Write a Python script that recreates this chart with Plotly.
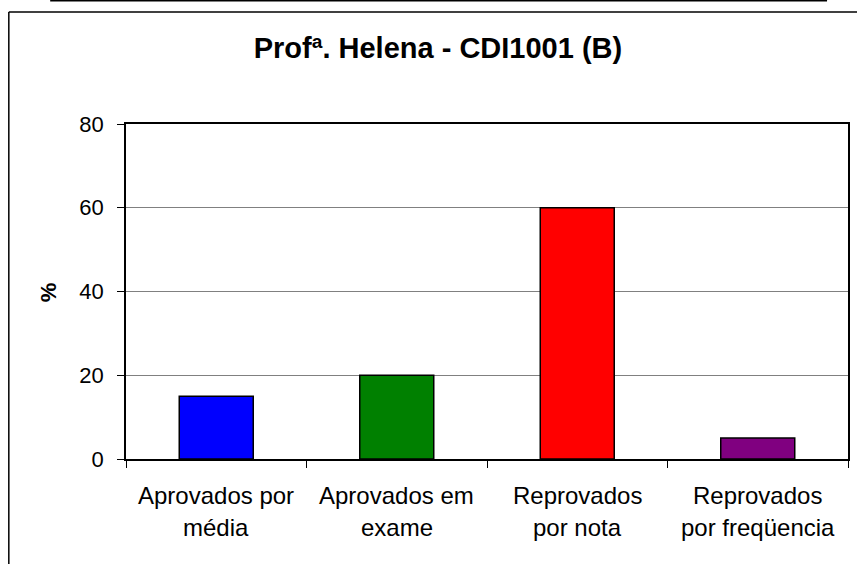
import plotly.graph_objects as go

categorias = ["Aprovados por média", "Aprovados em exame", "Reprovados por nota", "Reprovados por freqüencia"]
linha1 = ["Aprovados por", "Aprovados em", "Reprovados", "Reprovados"]
linha2 = ["média", "exame", "por nota", "por freqüencia"]
percentuais = [15, 20, 60, 5]
cores = ["#0000FF", "#008000", "#FF0000", "#800080"]
y_ticks = [0, 20, 40, 60, 80]

fig = go.Figure(go.Bar(
    x=categorias, y=percentuais,
    marker=dict(color=cores, line=dict(color="black", width=1.5)),
))

fnt = dict(family="Liberation Sans, Arial, sans-serif", color="black")

# two-line category labels (wider line spacing than plotly tick labels)
for c, a, b in zip(categorias, linha1, linha2):
    fig.add_annotation(x=c, y=-0.1075, xref="x", yref="paper", text=a, showarrow=False,
                       font=dict(size=24, **fnt), yanchor="middle")
    fig.add_annotation(x=c, y=-0.203, xref="x", yref="paper", text=b, showarrow=False,
                       font=dict(size=24, **fnt), yanchor="middle")

fig.add_annotation(x=-0.1077, y=0.4985, xref="paper", yref="paper", text="<b>%</b>", textangle=-90,
                   xanchor="center", yanchor="middle",
                   showarrow=False, font=dict(size=22, **fnt))

# outer chart frame and top rule
fig.add_shape(type="line", xref="paper", yref="paper", x0=-0.1623, x1=-0.1623, y0=1.334, y1=-0.32,
              line=dict(color="black", width=1.5))
fig.add_shape(type="line", xref="paper", yref="paper", x0=-0.1623, x1=1.02, y0=1.334, y1=1.334,
              line=dict(color="black", width=1.5))
fig.add_shape(type="line", xref="paper", yref="paper", x0=-0.105, x1=0.971, y0=1.368, y1=1.368,
              line=dict(color="black", width=1.5))

fig.update_layout(
    width=857, height=564,
    margin=dict(l=126, r=7, t=124, b=105),
    paper_bgcolor="white", plot_bgcolor="white",
    bargap=0.59, showlegend=False,
    title=dict(text="<b>Profª. Helena - CDI1001 (B)</b>", x=0.511, y=0.915, xanchor="center", yanchor="middle",
               font=dict(size=29, **fnt)),
    xaxis=dict(tickson="boundaries", ticks="outside", ticklen=7, tickcolor="black", showticklabels=False,
               showline=True, linecolor="black", linewidth=1.5, mirror=True, showgrid=False),
    yaxis=dict(range=[0, 80], tickvals=y_ticks, ticks="outside", ticklen=7, tickcolor="black",
               ticklabelstandoff=9,
               showline=True, linecolor="black", linewidth=1.5, mirror=True,
               showgrid=True, gridcolor="#808080", gridwidth=1, zeroline=False,
               tickfont=dict(size=22, **fnt)),
)

fig.write_html("out.html", config={"displayModeBar": False},
               post_script="document.body.style.margin = '0';")
